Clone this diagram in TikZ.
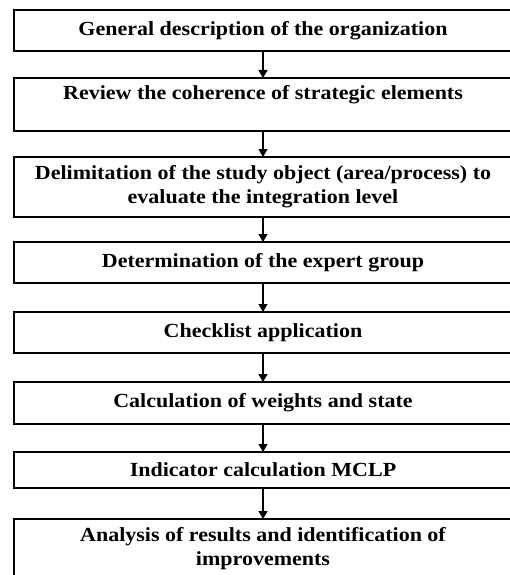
\documentclass[tikz,border=0pt]{standalone}
\usepackage{fontspec}
\newfontfamily\boxfont{Liberation Serif}[FakeStretch=1.1]
\usepackage{tikz}
\usetikzlibrary{arrows.meta}
\usetikzlibrary{positioning}
\tikzset{
	stepbox/.style={draw=black, line width=1.4pt, rectangle, minimum width=498pt,
		outer sep=0pt, align=center, inner sep=2pt,
		font=\boxfont\bfseries\fontsize{20}{24}\selectfont},
	flowarrow/.style={draw=black, line width=1.2pt, -{Triangle[width=9pt,length=8pt]}},
	%	flowarrow/.style={->,>=stealth},
}
\begin{document}
\begin{tikzpicture}
\useasboundingbox (0,0) rectangle (509pt,-575pt);
\node[stepbox, minimum height=41pt] (gen) at (263pt,-30.5pt) {General description of the organization};
\node[stepbox, minimum height=53pt, below=27pt of gen] (review) {Review the coherence of strategic elements\\\mbox{}};
\node[stepbox, minimum height=60pt, below=26pt of review] (delim) {Delimitation of the study object (area/process) to\\evaluate the integration level};
\node[stepbox, minimum height=41pt, below=25pt of delim] (expert) {Determination of the expert group};
\node[stepbox, minimum height=41pt, below=29pt of expert] (check) {Checklist application};
\node[stepbox, minimum height=42pt, below=29pt of check] (weights) {Calculation of weights and state};
\node[stepbox, minimum height=36pt, below=28pt of weights] (mclp) {Indicator calculation MCLP};
\node[stepbox, minimum height=60pt, below=31pt of mclp] (analysis) {Analysis of results and identification of\\improvements};

\draw[flowarrow] (gen) -- (review);
\draw[flowarrow] (review) -- (delim);
\draw[flowarrow] (delim) -- (expert);
\draw[flowarrow] (expert) -- (check);
\draw[flowarrow] (check) -- (weights);
\draw[flowarrow] (weights) -- (mclp);
\draw[flowarrow] (mclp) -- (analysis);
\end{tikzpicture}
\end{document}
